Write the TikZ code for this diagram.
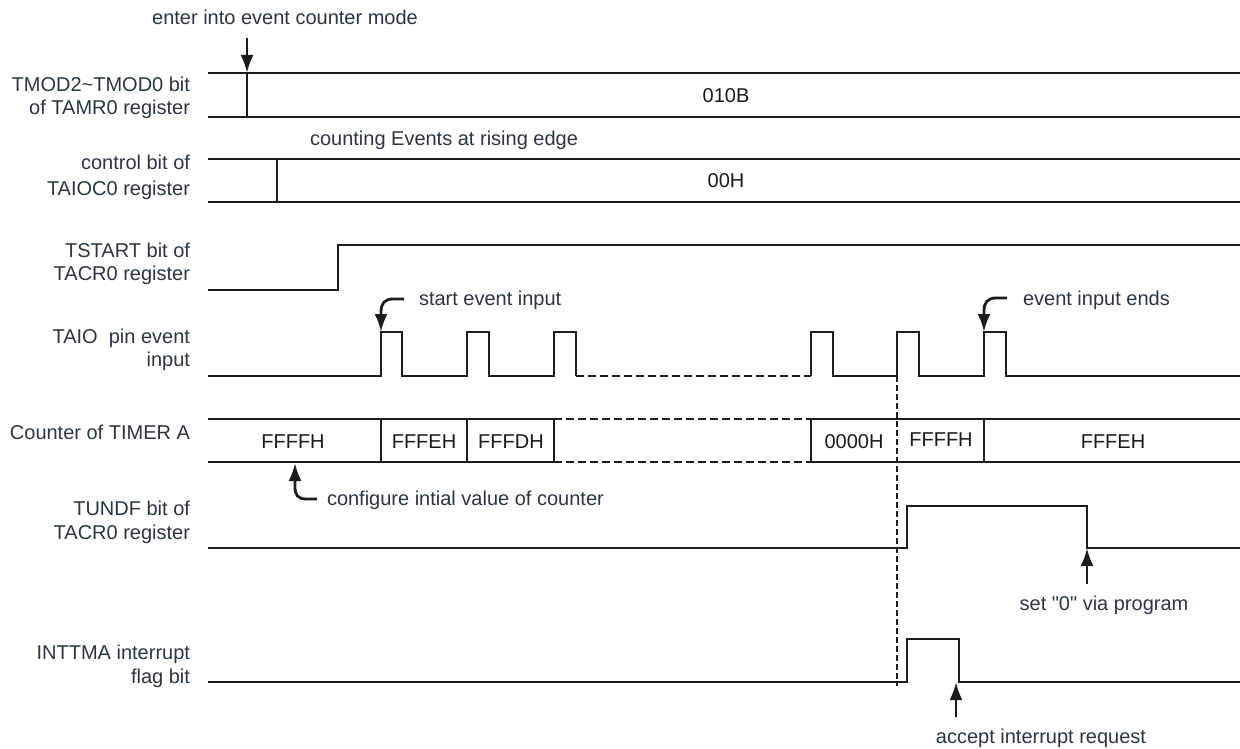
\documentclass[tikz,border=0pt]{standalone}
\usepackage{fontspec}
\setmainfont{Liberation Sans}
\newfontfamily\plainquote{Liberation Sans}
\usetikzlibrary{arrows.meta}
\definecolor{txt}{RGB}{40,54,74}
\definecolor{val}{RGB}{25,25,30}
\definecolor{ln}{RGB}{28,28,28}
\begin{document}
\begin{tikzpicture}[x=1pt,y=-1pt,
  every node/.style={inner sep=0pt,outer sep=0pt,font=\fontsize{20}{23}\selectfont},
  lbl/.style={anchor=base east,text=txt},
  note/.style={anchor=base,text=txt},
  notel/.style={anchor=base west,text=txt},
  value/.style={anchor=base,text=val},
  sig/.style={draw=ln,line width=2.9pt,line join=miter},
  thinsig/.style={draw=ln,line width=2pt},
  dsig/.style={draw=ln,line width=2.9pt,dash pattern=on 8pt off 4pt},
  vdash/.style={draw=ln,line width=2.4pt,dash pattern=on 6pt off 3pt},
  arr/.style={draw=ln,line width=2.8pt,-{Latex[length=18pt,width=13pt]}}]
\useasboundingbox (0,0) rectangle (1240,749);

% ---- labels ----
\node[lbl] (l1a) at (190,92) {TMOD2\textasciitilde TMOD0 bit};
\node[lbl] (l1b) at (190,115) {of TAMR0 register};
\node[lbl] (l2a) at (190,170) {control bit of};
\node[lbl] (l2b) at (190,195) {TAIOC0 register};
\node[lbl] (l3a) at (190,257) {TSTART bit of};
\node[lbl] (l3b) at (190,280) {TACR0 register};
\node[lbl] (l4a) at (190,343) {TAIO\ \ pin event};
\node[lbl] (l4b) at (190,366) {input};
\node[lbl] (l5) at (190,439) {Counter of TIMER A};
\node[lbl] (l6a) at (190,515) {TUNDF bit of};
\node[lbl] (l6b) at (190,539) {TACR0 register};
\node[lbl] (l7a) at (190,659) {INTTMA interrupt};
\node[lbl] (l7b) at (190,683) {flag bit};

% ---- row 1: TMOD ----
\draw[sig] (208,73) -- (1240,73);
\draw[sig] (208,117) -- (1240,117);
\draw[sig] (247,73) -- (247,117);
\node[note] (n1) at (285,25) {enter into event counter mode};
\coordinate (t1) at (247,73);
\draw[arr] (247,38) -- (t1);
\node[value] (v1) at (726,103) {010B};

% ---- row 2: TAIOC0 ----
\draw[sig] (208,159) -- (1240,159);
\draw[sig] (208,202) -- (1240,202);
\draw[sig] (277,159) -- (277,202);
\node[note] (n2) at (444,146) {counting Events at rising edge};
\node[value] (v2) at (726,188) {00H};

% ---- row 3: TSTART ----
\draw[sig] (208,290) -- (338,290) -- (338,245) -- (1240,245);

% ---- row 4: TAIO pin ----
\draw[sig] (208,376) -- (381,376) -- (381,332) -- (402,332) -- (402,376)
  -- (467,376) -- (467,332) -- (489,332) -- (489,376)
  -- (554,376) -- (554,332) -- (576,332) -- (576,376);
\draw[dsig] (576,376) -- (811,376);
\draw[sig] (811,376) -- (811,332) -- (833,332) -- (833,376)
  -- (897,376) -- (897,332) -- (919,332) -- (919,376)
  -- (984,376) -- (984,332) -- (1006,332) -- (1006,376) -- (1240,376);
\node[notel] (n3) at (419,305) {start event input};
\coordinate (t3) at (381,332);
\draw[arr] (404,299) -- (393,299) .. controls (385,299) and (381,303) .. (381,312) -- (t3);
\node[notel] (n4) at (1023,305) {event input ends};
\coordinate (t4) at (984,332);
\draw[arr] (1007,298) -- (996,298) .. controls (988,298) and (984,302) .. (984,311) -- (t4);

% ---- row 5: counter ----
\draw[sig] (208,419) -- (554,419);
\draw[sig] (208,462) -- (554,462);
\draw[sig] (381,419) -- (381,462);
\draw[sig] (467,419) -- (467,462);
\draw[sig] (554,419) -- (554,462);
\draw[dsig] (554,419) -- (811,419);
\draw[dsig] (554,462) -- (811,462);
\draw[thinsig] (811,419) -- (1240,419);
\draw[thinsig] (811,462) -- (1240,462);
\draw[thinsig] (811,419) -- (811,462);
\draw[thinsig] (984,419) -- (984,462);
\node[value] (c1) at (293,448) {FFFFH};
\node[value] (c2) at (424,448) {FFFEH};
\node[value] (c3) at (511,448) {FFFDH};
\node[value] (c4) at (854,448) {0000H};
\node[value] (c5) at (941,446) {FFFFH};
\node[value] (c6) at (1113,448) {FFFEH};
\node[notel] (n5) at (327,505) {configure intial value of counter};
\coordinate (t5) at (295,463);
\draw[arr] (317,499) -- (306,499) .. controls (298,499) and (295,495) .. (295,487) -- (t5);

% ---- dashed marker ----
\draw[vdash] (897,376) -- (897,686);

% ---- row 6: TUNDF ----
\draw[sig] (208,548) -- (907,548) -- (907,506) -- (1087,506) -- (1087,548) -- (1240,548);
\coordinate (t6) at (1087,548);
\draw[arr] (1087,584) -- (t6);
\node[note] (n6) at (1104,610) {\plainquote set "0" via program};

% ---- row 7: INTTMA ----
\draw[sig] (208,682) -- (907,682) -- (907,639) -- (959,639) -- (959,682) -- (1240,682);
\coordinate (t7) at (956,682);
\draw[arr] (956,717) -- (t7);
\node[note] (n7) at (1041,743) {accept interrupt request};
\end{tikzpicture}
\end{document}
